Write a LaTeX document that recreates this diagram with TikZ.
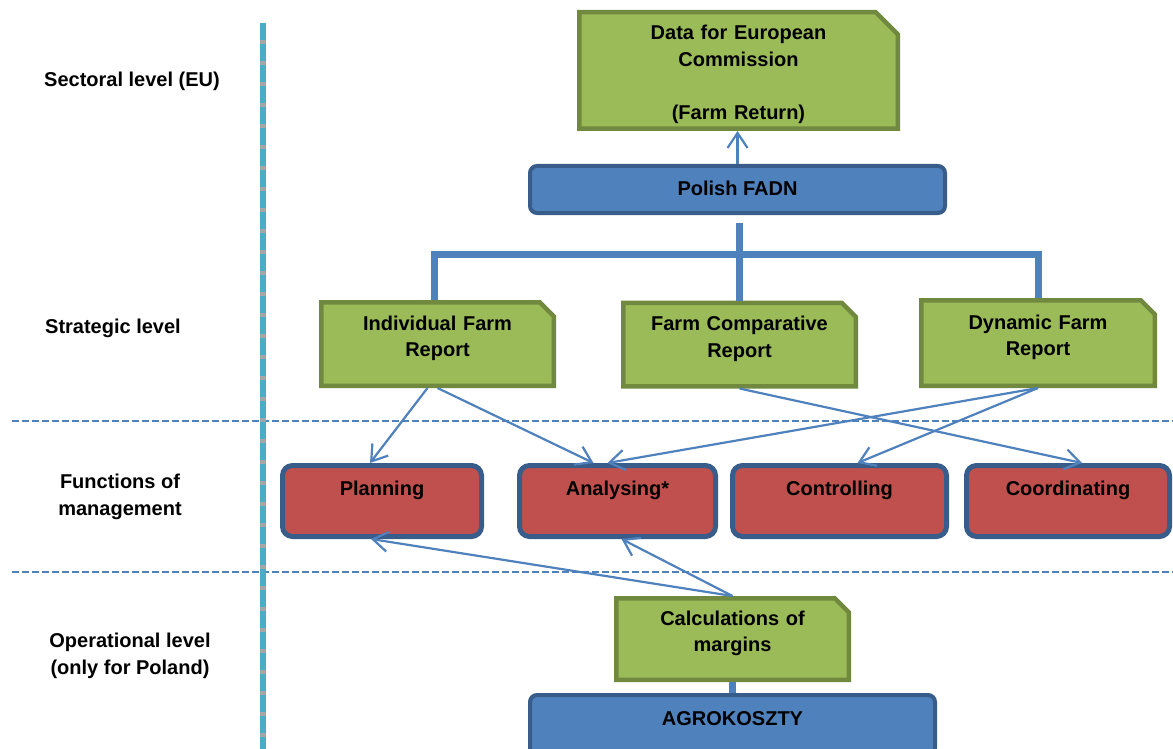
\documentclass[tikz,border=0pt]{standalone}
\usepackage{fontspec}
\setmainfont{Liberation Sans}
\usetikzlibrary{positioning, arrows.meta, shapes.misc}
\definecolor{Leaf}{HTML}{9BBB59}
\definecolor{LeafEdge}{HTML}{71893F}
\definecolor{Brick}{HTML}{C0504D}
\definecolor{Ocean}{HTML}{4F81BD}
\definecolor{OceanEdge}{HTML}{385D8A}
\definecolor{Teal}{HTML}{4BACC6}
\definecolor{Ash}{HTML}{A5A5A5}
\tikzset{
    bigfont/.style={font=\bfseries\fontsize{20}{26.5}\selectfont},
    leafnode/.style={chamfered rectangle, chamfered rectangle corners=north east, chamfered rectangle xsep=7pt, chamfered rectangle ysep=7pt, fill=Leaf, draw=LeafEdge, line width=4.5pt, bigfont, align=center, text width=200pt, inner sep=0pt, minimum width=232.5pt, minimum height=83.5pt, text height=15pt, text depth=43pt},
    bricknode/.style={rectangle, rounded corners=10pt, fill=Brick, draw=OceanEdge, line width=5pt, bigfont, inner sep=0pt, minimum height=71pt, text height=15pt, text depth=27pt},
    oceannode/.style={rectangle, rounded corners=7pt, fill=Ocean, draw=OceanEdge, line width=4pt, bigfont, inner sep=0pt, text height=15pt, text depth=4pt},
    levelnode/.style={bigfont, align=center},
    arrow/.style={-{Straight Barb[length=15pt,width=20pt]}, line width=2.2pt, color=Ocean},
    trunk/.style={line width=7pt, color=Ocean},
    divider/.style={dash pattern=on 7pt off 3pt, line width=1.5pt, color=Ocean},
}
\begin{document}
\begin{tikzpicture}[x=1pt, y=-1pt]
    \useasboundingbox (0,0) rectangle (1173,749);

    % Divisori dei livelli
    \draw[divider] (12,421) -- (1173,421);
    \draw[divider] (12,572) -- (1173,572);
    \draw[line width=6pt, Ash] (263,23) -- (263,749);
    \draw[line width=6pt, Teal, dash pattern=on 17pt off 4pt] (263,23) -- (263,749);

    % Nomi dei livelli
    \node[levelnode] (sectoral) at (132,81) {Sectoral level (EU)};
    \node[levelnode] (strategic) at (113,328) {Strategic level};
    \node[levelnode] (functions) at (120,497) {Functions of\\management};
    \node[levelnode] (operational) at (130,656) {Operational level\\(only for Poland)};

    % Livello settoriale
    \node[leafnode, text width=280pt, minimum width=318.5pt, minimum height=116.5pt, chamfered rectangle xsep=11pt, chamfered rectangle ysep=11pt, text depth=76pt] (data) at (738.5,70.5) {Data for European\\Commission\\[26.5pt](Farm Return)};
    \node[oceannode, minimum width=415pt, minimum height=47pt] (fadn) at (737.5,189.5) {Polish FADN};

    % Livello strategico
    \node[leafnode] (indiv) at (437.5,344) {Individual Farm\\Report};
    \node[leafnode] (comp) at (739.5,344.5) {Farm Comparative\\Report};
    \node[leafnode, minimum width=233.5pt, minimum height=85.5pt] (dyn) at (1038,343) {Dynamic Farm\\Report};

    % Funzioni di gestione
    \node[bricknode, minimum width=199pt] (plan) at (382,501) {Planning};
    \node[bricknode, minimum width=196pt] (anal) at (617.5,501) {Analysing*};
    \node[bricknode, minimum width=214pt] (ctrl) at (839.5,501) {Controlling};
    \node[bricknode, minimum width=203pt] (coord) at (1068,501) {Coordinating};

    % Livello operativo
    \node[leafnode, minimum height=81.5pt] (calc) at (732.5,639) {Calculations of\\margins};
    \node[oceannode, minimum width=405pt, minimum height=60pt, text depth=15pt] (agro) at (732.5,725) {AGROKOSZTY};

    % Collegamenti spessi
    \draw[trunk] ([yshift=-8pt]comp.north |- fadn.south) -- (comp.north);
    \draw[trunk] ([xshift=-3pt]indiv.north) |- ([yshift=46pt]comp.north) -| (dyn.north);
    \draw[trunk] (calc.south) -- (agro.north);

    % Frecce
    \draw[arrow] (fadn.north) -- (fadn.north |- data.south);
    \draw[arrow] ([xshift=-10pt]indiv.south) -- ([xshift=-12pt]plan.north);
    \draw[arrow] (indiv.south) -- ([xshift=-24pt]anal.north);
    \draw[arrow] (comp.south) -- ([xshift=14pt]coord.north);
    \draw[arrow] (dyn.south) -- ([xshift=-10pt]anal.north);
    \draw[arrow] (dyn.south) -- ([xshift=18pt]ctrl.north);
    \draw[arrow] (calc.north) -- ([xshift=-11pt]plan.south);
    \draw[arrow] (calc.north) -- ([xshift=4pt]anal.south);
\end{tikzpicture}
\end{document}
